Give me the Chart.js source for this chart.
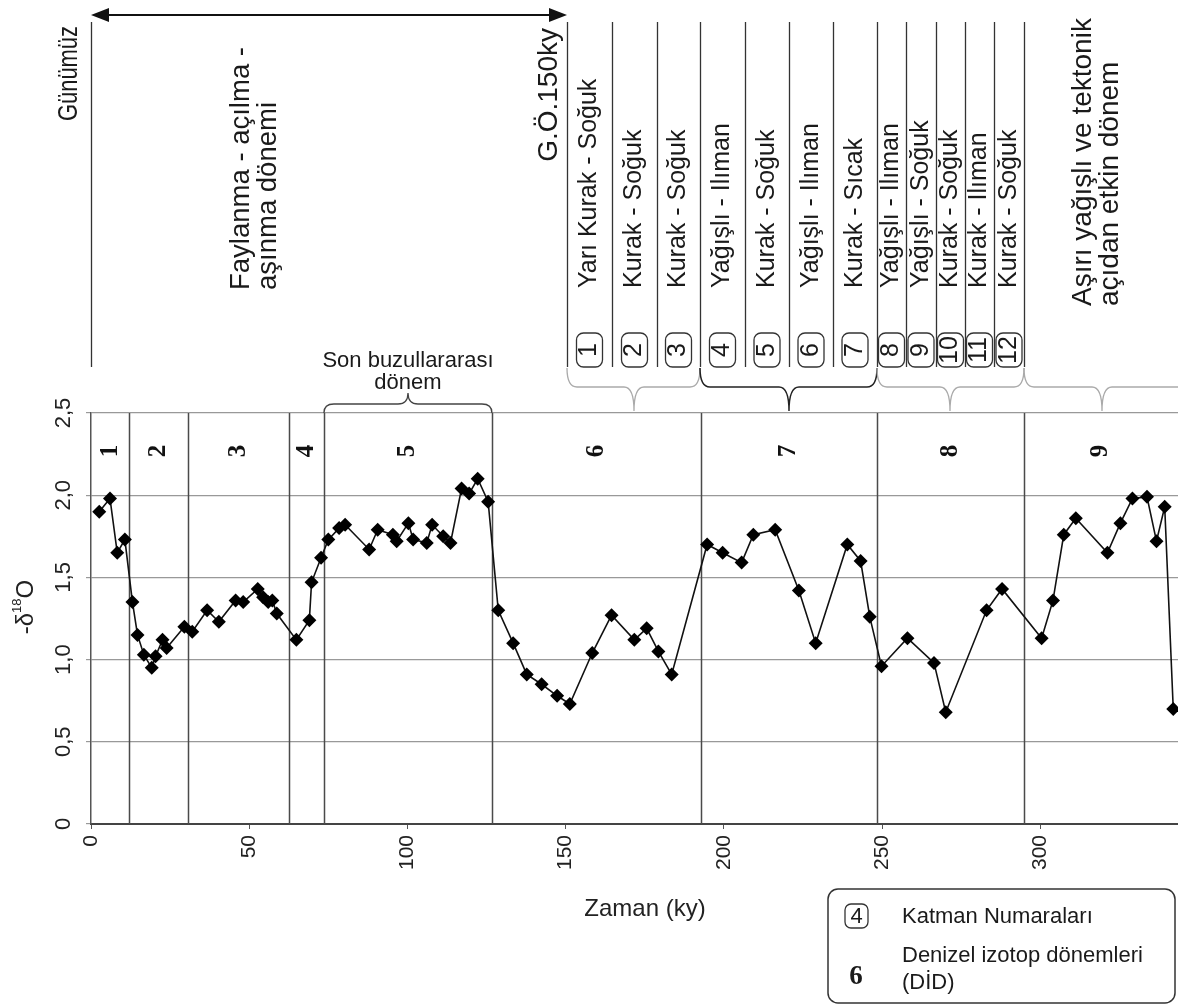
<!DOCTYPE html>
<html>
<head>
<meta charset="utf-8">
<script src="https://cdn.jsdelivr.net/npm/chart.js@4.4.0/dist/chart.umd.min.js"></script>
<style>
  html, body { margin: 0; padding: 0; background: #fff; }
  #canvas { display: block; }
</style>
</head>
<body>
<canvas id="canvas" width="1178" height="1005"></canvas>
<script>
// age (ky) of each sample and its -d18O value
var ages = [2.6, 6.0, 8.3, 10.7, 13.1, 14.7, 16.7, 19.2, 20.4, 22.6, 23.9, 29.5, 32.0, 36.7, 40.4,
  45.7, 48.1, 52.7, 54.4, 56.0, 57.3, 58.7, 64.9, 69.0, 69.7, 72.7, 75.0, 78.4, 80.3, 87.9,
  90.6, 95.4, 96.6, 100.3, 101.8, 106.1, 107.8, 111.3, 113.6, 117.1, 119.5, 122.2, 125.5,
  128.7, 133.4, 137.7, 142.4, 147.3, 151.3, 158.4, 164.5, 171.7, 175.6, 179.3, 183.5,
  194.7, 199.6, 205.6, 209.3, 216.2, 223.7, 229.0, 239.0, 243.2, 246.1, 249.8, 258.0,
  266.4, 270.1, 283.0, 287.9, 300.4, 304.0, 307.4, 311.2, 321.2, 325.3, 329.1, 333.7,
  336.7, 339.3, 342.0];
var d18O = [1.90, 1.98, 1.65, 1.73, 1.35, 1.15, 1.03, 0.95, 1.02, 1.12, 1.07, 1.20, 1.17, 1.30, 1.23,
  1.36, 1.35, 1.43, 1.38, 1.35, 1.36, 1.28, 1.12, 1.24, 1.47, 1.62, 1.73, 1.80, 1.82, 1.67,
  1.79, 1.76, 1.72, 1.83, 1.73, 1.71, 1.82, 1.75, 1.71, 2.04, 2.01, 2.10, 1.96,
  1.30, 1.10, 0.91, 0.85, 0.78, 0.73, 1.04, 1.27, 1.12, 1.19, 1.05, 0.91,
  1.70, 1.65, 1.59, 1.76, 1.79, 1.42, 1.10, 1.70, 1.60, 1.26, 0.96, 1.13,
  0.98, 0.68, 1.30, 1.43, 1.13, 1.36, 1.76, 1.86, 1.65, 1.83, 1.98, 1.99,
  1.72, 1.93, 0.70];

// marine isotope stage (DİD) boundaries in ky and their numbers
var stageBounds = [12.1, 30.7, 62.5, 73.6, 126.7, 192.7, 248.4, 294.7];
var stageNames = ['1', '2', '3', '4', '5', '6', '7', '8', '9'];

// climate periods above the chart (layer numbers 1-12)
var periodNums = ['1', '2', '3', '4', '5', '6', '7', '8', '9', '10', '11', '12'];
var periodNames = ['Yarı Kurak - Soğuk', 'Kurak - Soğuk', 'Kurak - Soğuk', 'Yağışlı - Ilıman',
  'Kurak - Soğuk', 'Yağışlı - Ilıman', 'Kurak - Sıcak', 'Yağışlı - Ilıman', 'Yağışlı - Soğuk',
  'Kurak - Soğuk', 'Kurak - Ilıman', 'Kurak - Soğuk'];

var SANS = '"Liberation Sans", Arial, Helvetica, sans-serif';
var SERIF = '"Liberation Serif", "Times New Roman", serif';

// column edges of the period table (px)
var colX = [567, 612, 657, 700, 745, 789, 833, 877, 906, 936, 965, 994, 1024];

function vText(ctx, text, x, y, align, font, color, maxW) {
  ctx.save();
  ctx.translate(x, y);
  ctx.rotate(-Math.PI / 2);
  ctx.font = font;
  ctx.fillStyle = color || '#1a1a1a';
  ctx.textAlign = align;
  ctx.textBaseline = 'middle';
  if (maxW) ctx.fillText(text, 0, 0, maxW);
  else ctx.fillText(text, 0, 0);
  ctx.restore();
}

function roundBox(ctx, x, y, w, h, r) {
  ctx.beginPath();
  ctx.roundRect(x, y, w, h, r);
  ctx.stroke();
}

// curly brace from x1 to x2, ends at yEnd, tip at (xTip, yTip)
function brace(ctx, x1, x2, yEnd, yMid, yTip, xTip, color, lw) {
  var r = 10;
  ctx.save();
  ctx.strokeStyle = color;
  ctx.lineWidth = lw;
  ctx.beginPath();
  ctx.moveTo(x1, yEnd);
  ctx.quadraticCurveTo(x1, yMid, x1 + r, yMid);
  ctx.lineTo(xTip - r, yMid);
  ctx.quadraticCurveTo(xTip, yMid, xTip, yTip);
  ctx.quadraticCurveTo(xTip, yMid, xTip + r, yMid);
  ctx.lineTo(x2 - r, yMid);
  ctx.quadraticCurveTo(x2, yMid, x2, yEnd);
  ctx.stroke();
  ctx.restore();
}

var extras = {
  id: 'extras',
  beforeDatasetsDraw: function (chart) {
    var ctx = chart.ctx, xs = chart.scales.x, a = chart.chartArea;
    ctx.save();
    ctx.strokeStyle = '#4a4a4a';
    ctx.lineWidth = 1.5;
    stageBounds.forEach(function (b) {
      var px = Math.round(xs.getPixelForValue(b)) + 0.5;
      ctx.beginPath();
      ctx.moveTo(px, a.top);
      ctx.lineTo(px, a.bottom);
      ctx.stroke();
    });
    ctx.restore();
  },
  afterDraw: function (chart) {
    var ctx = chart.ctx, xs = chart.scales.x, ys = chart.scales.y, a = chart.chartArea;

    // y tick labels, rotated
    ys.ticks.forEach(function (t) {
      var lab = t.value === 0 ? '0' : t.value.toFixed(1).replace('.', ',');
      vText(ctx, lab, 64, ys.getPixelForValue(t.value), 'center', '22px ' + SANS, '#222');
    });
    // y title with superscript
    ctx.save();
    ctx.translate(26, 607);
    ctx.rotate(-Math.PI / 2);
    ctx.fillStyle = '#222';
    ctx.textBaseline = 'middle';
    ctx.font = '24px ' + SANS;
    var w1 = ctx.measureText('-δ').width;
    ctx.font = '13px ' + SANS;
    var w2 = ctx.measureText('18').width;
    ctx.font = '24px ' + SANS;
    var w3 = ctx.measureText('O').width;
    var sx = -(w1 + w2 + w3) / 2;
    ctx.textAlign = 'left';
    ctx.fillText('-δ', sx, 0);
    ctx.font = '13px ' + SANS;
    ctx.fillText('18', sx + w1, -9);
    ctx.font = '24px ' + SANS;
    ctx.fillText('O', sx + w1 + w2, 0);
    ctx.restore();

    // stage numbers
    var edges = [0].concat(stageBounds).concat([xs.max]);
    stageNames.forEach(function (s, i) {
      var mid = (edges[i] + edges[i + 1]) / 2;
      vText(ctx, s, xs.getPixelForValue(mid), 451, 'center', 'bold 25px ' + SERIF, '#111');
    });

    // x title
    ctx.save();
    ctx.font = '24px ' + SANS;
    ctx.fillStyle = '#222';
    ctx.textAlign = 'center';
    ctx.textBaseline = 'middle';
    ctx.fillText('Zaman (ky)', 645, 909);
    ctx.restore();

    // ---- top annotation ----
    var x0 = xs.getPixelForValue(0), x150 = colX[0];
    ctx.save();
    ctx.strokeStyle = '#111';
    ctx.fillStyle = '#111';
    ctx.lineWidth = 2;
    ctx.beginPath();
    ctx.moveTo(x0 + 12, 15);
    ctx.lineTo(x150 - 12, 15);
    ctx.stroke();
    ctx.beginPath();
    ctx.moveTo(x0, 15); ctx.lineTo(x0 + 18, 8); ctx.lineTo(x0 + 18, 22); ctx.closePath(); ctx.fill();
    ctx.beginPath();
    ctx.moveTo(x150, 15); ctx.lineTo(x150 - 18, 8); ctx.lineTo(x150 - 18, 22); ctx.closePath(); ctx.fill();

    ctx.strokeStyle = '#333';
    ctx.lineWidth = 1.3;
    [x0].concat(colX).forEach(function (cx) {
      var px = Math.round(cx) + 0.5;
      ctx.beginPath();
      ctx.moveTo(px, 22);
      ctx.lineTo(px, 367);
      ctx.stroke();
    });
    ctx.restore();

    vText(ctx, 'Günümüz', 69, 26, 'right', '28px ' + SANS, null, 95);
    vText(ctx, 'Faylanma - açılma -', 241, 290, 'left', '27.5px ' + SANS);
    vText(ctx, 'aşınma dönemi', 268, 290, 'left', '27.5px ' + SANS);
    vText(ctx, 'G.Ö.150ky', 549, 28, 'right', '28px ' + SANS);

    ctx.save();
    ctx.strokeStyle = '#333';
    ctx.lineWidth = 1.3;
    periodNames.forEach(function (p, i) {
      var cx = (colX[i] + colX[i + 1]) / 2;
      vText(ctx, p, cx, 288, 'left', '25px ' + SANS);
      roundBox(ctx, cx - 13, 333, 26, 34, 7);
      vText(ctx, periodNums[i], cx, 350, 'center', '25px ' + SANS);
    });
    ctx.restore();

    vText(ctx, 'Aşırı yağışlı ve tektonik', 1083, 306, 'left', '28px ' + SANS);
    vText(ctx, 'açıdan etkin dönem', 1110, 306, 'left', '28px ' + SANS);

    // braces below the period table
    brace(ctx, colX[0], colX[3], 368, 387, 411, 634, '#aaa', 1.3);
    brace(ctx, colX[3], colX[7], 368, 387, 411, 789, '#222', 1.5);
    brace(ctx, colX[7], colX[12], 368, 387, 411, 950, '#aaa', 1.3);
    brace(ctx, colX[12], 1200, 368, 387, 411, 1102, '#aaa', 1.3);

    // last interglacial brace
    var b1 = xs.getPixelForValue(stageBounds[3]), b2 = xs.getPixelForValue(stageBounds[4]);
    brace(ctx, b1, b2, a.top, 404, 393, 408, '#444', 1.3);
    ctx.save();
    ctx.font = '22px ' + SANS;
    ctx.fillStyle = '#1a1a1a';
    ctx.textAlign = 'center';
    ctx.textBaseline = 'middle';
    ctx.fillText('Son buzullararası', 408, 361);
    ctx.fillText('dönem', 408, 383);
    ctx.restore();

    // legend box
    ctx.save();
    ctx.strokeStyle = '#333';
    ctx.lineWidth = 1.5;
    roundBox(ctx, 828, 889, 347, 114, 10);
    ctx.lineWidth = 1.3;
    roundBox(ctx, 845, 904, 23, 24, 6);
    ctx.fillStyle = '#1a1a1a';
    ctx.textBaseline = 'middle';
    ctx.textAlign = 'center';
    ctx.font = '22px ' + SANS;
    ctx.fillText('4', 856.5, 917);
    ctx.font = 'bold 27px ' + SERIF;
    ctx.fillText('6', 856, 977);
    ctx.textAlign = 'left';
    ctx.font = '22px ' + SANS;
    ctx.fillText('Katman Numaraları', 902, 917);
    ctx.fillText('Denizel izotop dönemleri', 902, 956);
    ctx.fillText('(DİD)', 902, 983);
    ctx.restore();
  }
};

var points = ages.map(function (a, i) { return { x: a, y: d18O[i] }; });

var myChart = new Chart(document.getElementById('canvas'), {
  type: 'line',
  data: {
    datasets: [{
      label: '-δ18O',
      data: points,
      borderColor: '#111',
      borderWidth: 1.6,
      pointStyle: 'rectRot',
      pointRadius: 7,
      pointBackgroundColor: '#000',
      pointBorderColor: '#000',
      pointBorderWidth: 0,
      tension: 0
    }]
  },
  options: {
    responsive: false,
    animation: false,
    devicePixelRatio: 1,
    layout: { autoPadding: false, padding: { top: 413, right: 0, left: 0, bottom: 0 } },
    plugins: { legend: { display: false }, tooltip: { enabled: false } },
    scales: {
      x: {
        type: 'linear',
        min: 0,
        max: 343.5,
        ticks: {
          stepSize: 50,
          includeBounds: false,
          autoSkip: false,
          minRotation: 90,
          maxRotation: 90,
          padding: 6,
          color: '#222',
          font: { family: SANS, size: 21 }
        },
        grid: { drawOnChartArea: false, tickLength: 5, color: '#555' },
        border: { color: '#444', width: 2 },
        afterFit: function (s) {
          s.height = 1005 - 824;
          s.paddingLeft = 0;
          s.paddingRight = 0;
        }
      },
      y: {
        min: 0,
        max: 2.5,
        ticks: { stepSize: 0.5, display: false },
        grid: { color: '#999', lineWidth: 1.2, tickLength: 5 },
        border: { color: '#555', width: 1.5 },
        afterFit: function (s) { s.width = 91; }
      }
    }
  },
  plugins: [extras]
});
</script>
</body>
</html>
